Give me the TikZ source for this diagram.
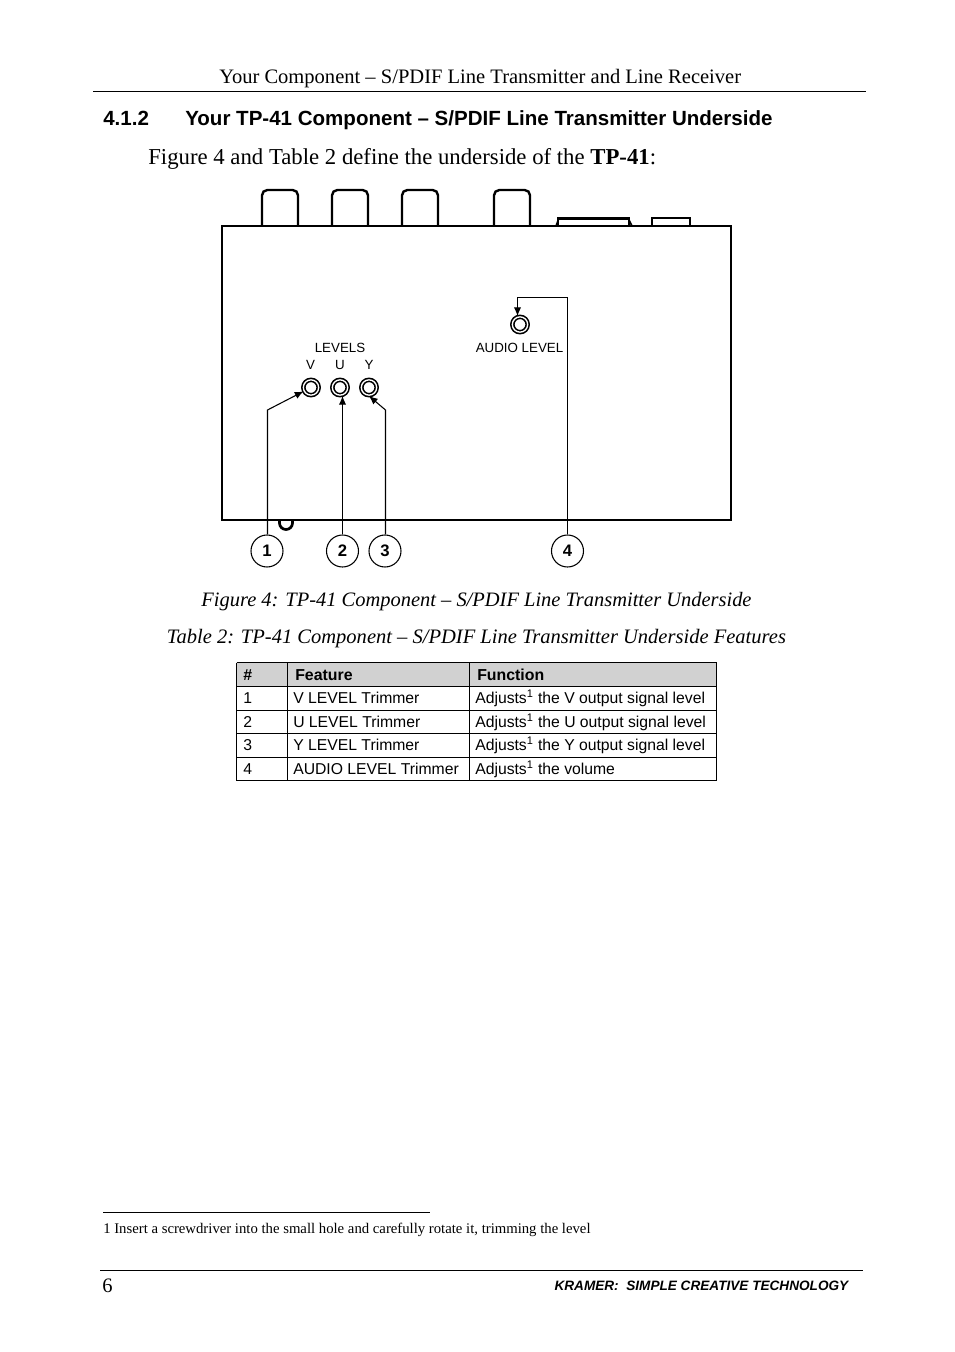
\documentclass[tikz,border=0pt]{standalone}
\usepackage{fontspec}
\setmainfont{Liberation Serif}
\setsansfont{Liberation Sans}
\usetikzlibrary{calc}
\usetikzlibrary{arrows.meta}
\tikzset{
  txt/.style={inner sep=0pt,anchor=base west},
  trimmer/.style={circle,draw,line width=1.2pt,double,double distance=1pt,inner sep=0pt,minimum size=11.5pt},
  callout/.style={circle,draw,line width=.8pt,inner sep=0pt,minimum size=24pt,font=\sffamily\fontsize{12.5}{14}\selectfont\bfseries},
  lead/.style={line width=.8pt},
  leadarrow/.style={lead,-{Latex[length=6.5pt,width=5.5pt]}},
  rule/.style={line width=.6pt},
  jack/.style={line width=1.8pt,rounded corners=4pt},
  panel/.style={font=\sffamily\fontsize{10}{12}\selectfont,inner sep=0pt}
}
\begin{document}
\begin{tikzpicture}[x=0.75pt,y=-0.75pt]
\useasboundingbox (0,0) rectangle (954,1352);
\fill[white] (0,0) rectangle (954,1352);
% page head
\node[txt,font=\fontsize{15.4}{18}\selectfont] (head) at (219,84) {Your Component – S/PDIF Line Transmitter and Line Receiver};
\draw[rule] (93,91.5) -- (866,91.5);
\node[txt,font=\sffamily\bfseries\fontsize{15.4}{18}\selectfont] (secnum) at (103,126) {4.1.2};
\node[txt,font=\sffamily\bfseries\fontsize{15.4}{18}\selectfont] (sectitle) at (185,126) {Your TP-41 Component – S/PDIF Line Transmitter Underside};
\node[txt,font=\fontsize{17.07}{20}\selectfont] (intro) at (148,164.5) {Figure 4 and Table 2 define the underside of the \textbf{TP-41}:};
% unit
\foreach \x/\w in {262/36,332/36,402/36,494/36}
\draw[jack] (\x,226) -- (\x,190) -- (\x+\w,190) -- (\x+\w,226);
\draw[line width=1.2pt] (556,226) -- (559,218);
\draw[line width=1.2pt] (632,226) -- (628,218);
\draw[line width=2.2pt] (558,218.5) rectangle (629,226);
\draw[line width=1.6pt] (652,226) -- (652,218) -- (690,218) -- (690,226);
\draw[line width=1.8pt] (222,226) rectangle (731,520);
\draw[line width=2pt] (279.5,520) -- (279.5,523) arc (180:0:6.5) -- (292.5,520);
% trimmers
\node[trimmer] (v) at (311,387.5) {};
\node[trimmer] (u) at (340,387.5) {};
\node[trimmer] (y) at (369,387.5) {};
\node[trimmer] (audio) at (520,324.5) {};
\node[panel] (levels) at (340,347.5) {LEVELS};
\node[panel] (vlabel) at (310.5,364.5) {V};
\node[panel] (ulabel) at (340,364.5) {U};
\node[panel] (ylabel) at (369,364.5) {Y};
\node[panel] (audiolabel) at (519.5,347.5) {AUDIO LEVEL};
% callouts
\node[callout] (one) at (267,551) {1};
\node[callout] (two) at (342.5,551) {2};
\node[callout] (three) at (385,551) {3};
\node[callout] (four) at (567.5,551) {4};
\coordinate (vbend) at (267.5,410);
\coordinate (ybend) at (385.5,410);
\coordinate (audiobend) at (517.5,297.5);
\draw[leadarrow] (one.north -| vbend) -- (vbend) -- (v);
\draw[leadarrow] (two) -- (two |- u.south);
\draw[leadarrow] (three.north -| ybend) -- (ybend) -- (y.south);
\draw[leadarrow] (four) |- (audiobend) -- (audiobend |- audio.north);
% captions
\node[font=\itshape\fontsize{15.35}{18}\selectfont,inner sep=0pt,anchor=base] (figcap) at (476.5,606) {Figure 4: TP-41 Component – S/PDIF Line Transmitter Underside};
\node[font=\itshape\fontsize{15.4}{18}\selectfont,inner sep=0pt,anchor=base] (tabcap) at (476.5,643) {Table 2: TP-41 Component – S/PDIF Line Transmitter Underside Features};
% table
\fill[black!18] (236.5,662.5) rectangle (716.5,686);
\foreach \y in {662.5,686,710,733.5,757.5,780.5}
\draw[line width=.6pt] (236.5,\y) -- (716.5,\y);
\foreach \x in {236.5,287.5,469.5,716.5}
\draw[line width=.6pt] (\x,662.5) -- (\x,780.5);
\node[txt,font=\sffamily\bfseries\fontsize{11.9}{14}\selectfont] (hnum) at (243,680) {\#};
\node[txt,font=\sffamily\bfseries\fontsize{11.9}{14}\selectfont] (hfeature) at (295,680) {Feature};
\node[txt,font=\sffamily\bfseries\fontsize{11.9}{14}\selectfont] (hfunction) at (477,680) {Function};
\foreach \y/\n/\f/\g in {703/1/V LEVEL Trimmer/the V output signal level,727/2/U LEVEL Trimmer/the U output signal level,750/3/Y LEVEL Trimmer/the Y output signal level,774/4/AUDIO LEVEL Trimmer/the volume}{
\node[txt,font=\sffamily\fontsize{11.8}{14}\selectfont] (num\n) at (243,\y) {\n};
\node[txt,font=\sffamily\fontsize{11.8}{14}\selectfont] (feat\n) at (293,\y) {\f};
\node[txt,font=\sffamily\fontsize{11.8}{14}\selectfont] (func\n) at (475,\y) {Adjusts\textsuperscript{1} \g};
}
% foot
\draw[rule] (103,1212.5) -- (430,1212.5);
\node[txt,font=\fontsize{11.05}{13}\selectfont] (note) at (103,1233) {1 Insert a screwdriver into the small hole and carefully rotate it, trimming the level};
\draw[rule] (100,1270.5) -- (863,1270.5);
\node[txt,font=\fontsize{15.4}{18}\selectfont] (page) at (102,1292) {6};
\node[inner sep=0pt,anchor=base east,font=\sffamily\bfseries\itshape\fontsize{10.2}{12}\selectfont] (brand) at (848.5,1290) {KRAMER:\ \ SIMPLE CREATIVE TECHNOLOGY};
\end{tikzpicture}
\end{document}
